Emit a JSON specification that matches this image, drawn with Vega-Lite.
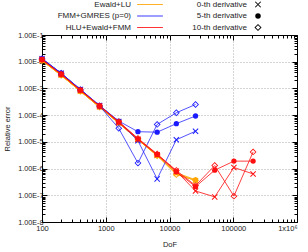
{
  "$schema": "https://vega.github.io/schema/vega-lite/v6.json",
  "width": 255,
  "height": 187,
  "autosize": {"type": "none"},
  "padding": {"left": 42, "top": 35, "right": 11, "bottom": 30},
  "config": {
    "font": "Liberation Sans",
    "view": {"stroke": "black", "strokeWidth": 1},
    "axis": {"labelFont": "Liberation Sans", "titleFont": "Liberation Sans", "labelFontSize": 7.5, "titleFontSize": 7.5, "titleFontWeight": "normal", "labelColor": "#222", "titleColor": "#222", "domainColor": "black", "tickColor": "black"}
  },
  "data": {"values": [
    {"DoF": 100, "err": 1.1e-2, "method": "Ewald+LU", "deriv": "0-th derivative"},
    {"DoF": 200, "err": 3.1e-3, "method": "Ewald+LU", "deriv": "0-th derivative"},
    {"DoF": 400, "err": 7.8e-4, "method": "Ewald+LU", "deriv": "0-th derivative"},
    {"DoF": 800, "err": 2.0e-4, "method": "Ewald+LU", "deriv": "0-th derivative"},
    {"DoF": 1600, "err": 5.0e-5, "method": "Ewald+LU", "deriv": "0-th derivative"},
    {"DoF": 3200, "err": 1.2e-5, "method": "Ewald+LU", "deriv": "0-th derivative"},
    {"DoF": 6400, "err": 3.1e-6, "method": "Ewald+LU", "deriv": "0-th derivative"},
    {"DoF": 12800, "err": 6.5e-7, "method": "Ewald+LU", "deriv": "0-th derivative"},
    {"DoF": 25600, "err": 3.5e-7, "method": "Ewald+LU", "deriv": "0-th derivative"},
    {"DoF": 100, "err": 1.1e-2, "method": "Ewald+LU", "deriv": "5-th derivative"},
    {"DoF": 200, "err": 3.1e-3, "method": "Ewald+LU", "deriv": "5-th derivative"},
    {"DoF": 400, "err": 7.9e-4, "method": "Ewald+LU", "deriv": "5-th derivative"},
    {"DoF": 800, "err": 2.0e-4, "method": "Ewald+LU", "deriv": "5-th derivative"},
    {"DoF": 1600, "err": 5.1e-5, "method": "Ewald+LU", "deriv": "5-th derivative"},
    {"DoF": 3200, "err": 1.2e-5, "method": "Ewald+LU", "deriv": "5-th derivative"},
    {"DoF": 6400, "err": 3.1e-6, "method": "Ewald+LU", "deriv": "5-th derivative"},
    {"DoF": 12800, "err": 7.0e-7, "method": "Ewald+LU", "deriv": "5-th derivative"},
    {"DoF": 25600, "err": 3.8e-7, "method": "Ewald+LU", "deriv": "5-th derivative"},
    {"DoF": 100, "err": 1.1e-2, "method": "Ewald+LU", "deriv": "10-th derivative"},
    {"DoF": 200, "err": 3.1e-3, "method": "Ewald+LU", "deriv": "10-th derivative"},
    {"DoF": 400, "err": 7.8e-4, "method": "Ewald+LU", "deriv": "10-th derivative"},
    {"DoF": 800, "err": 2.0e-4, "method": "Ewald+LU", "deriv": "10-th derivative"},
    {"DoF": 1600, "err": 5.0e-5, "method": "Ewald+LU", "deriv": "10-th derivative"},
    {"DoF": 3200, "err": 1.2e-5, "method": "Ewald+LU", "deriv": "10-th derivative"},
    {"DoF": 6400, "err": 3.0e-6, "method": "Ewald+LU", "deriv": "10-th derivative"},
    {"DoF": 12800, "err": 6.0e-7, "method": "Ewald+LU", "deriv": "10-th derivative"},
    {"DoF": 25600, "err": 3.6e-7, "method": "Ewald+LU", "deriv": "10-th derivative"},

    {"DoF": 100, "err": 1.3e-2, "method": "FMM+GMRES (p=0)", "deriv": "0-th derivative"},
    {"DoF": 200, "err": 3.7e-3, "method": "FMM+GMRES (p=0)", "deriv": "0-th derivative"},
    {"DoF": 400, "err": 9.2e-4, "method": "FMM+GMRES (p=0)", "deriv": "0-th derivative"},
    {"DoF": 800, "err": 2.3e-4, "method": "FMM+GMRES (p=0)", "deriv": "0-th derivative"},
    {"DoF": 1600, "err": 5.8e-5, "method": "FMM+GMRES (p=0)", "deriv": "0-th derivative"},
    {"DoF": 3200, "err": 1.1e-5, "method": "FMM+GMRES (p=0)", "deriv": "0-th derivative"},
    {"DoF": 6400, "err": 4.1e-7, "method": "FMM+GMRES (p=0)", "deriv": "0-th derivative"},
    {"DoF": 12800, "err": 1.2e-5, "method": "FMM+GMRES (p=0)", "deriv": "0-th derivative"},
    {"DoF": 25600, "err": 2.5e-5, "method": "FMM+GMRES (p=0)", "deriv": "0-th derivative"},
    {"DoF": 100, "err": 1.3e-2, "method": "FMM+GMRES (p=0)", "deriv": "5-th derivative"},
    {"DoF": 200, "err": 3.7e-3, "method": "FMM+GMRES (p=0)", "deriv": "5-th derivative"},
    {"DoF": 400, "err": 9.2e-4, "method": "FMM+GMRES (p=0)", "deriv": "5-th derivative"},
    {"DoF": 800, "err": 2.3e-4, "method": "FMM+GMRES (p=0)", "deriv": "5-th derivative"},
    {"DoF": 1600, "err": 6.0e-5, "method": "FMM+GMRES (p=0)", "deriv": "5-th derivative"},
    {"DoF": 3200, "err": 2.4e-5, "method": "FMM+GMRES (p=0)", "deriv": "5-th derivative"},
    {"DoF": 6400, "err": 2.3e-5, "method": "FMM+GMRES (p=0)", "deriv": "5-th derivative"},
    {"DoF": 12800, "err": 4.8e-5, "method": "FMM+GMRES (p=0)", "deriv": "5-th derivative"},
    {"DoF": 25600, "err": 9.3e-5, "method": "FMM+GMRES (p=0)", "deriv": "5-th derivative"},
    {"DoF": 100, "err": 1.3e-2, "method": "FMM+GMRES (p=0)", "deriv": "10-th derivative"},
    {"DoF": 200, "err": 3.7e-3, "method": "FMM+GMRES (p=0)", "deriv": "10-th derivative"},
    {"DoF": 400, "err": 9.0e-4, "method": "FMM+GMRES (p=0)", "deriv": "10-th derivative"},
    {"DoF": 800, "err": 2.2e-4, "method": "FMM+GMRES (p=0)", "deriv": "10-th derivative"},
    {"DoF": 1600, "err": 3.2e-5, "method": "FMM+GMRES (p=0)", "deriv": "10-th derivative"},
    {"DoF": 3200, "err": 1.6e-6, "method": "FMM+GMRES (p=0)", "deriv": "10-th derivative"},
    {"DoF": 6400, "err": 4.5e-5, "method": "FMM+GMRES (p=0)", "deriv": "10-th derivative"},
    {"DoF": 12800, "err": 1.23e-4, "method": "FMM+GMRES (p=0)", "deriv": "10-th derivative"},
    {"DoF": 25600, "err": 2.5e-4, "method": "FMM+GMRES (p=0)", "deriv": "10-th derivative"},

    {"DoF": 100, "err": 1.2e-2, "method": "HLU+Ewald+FMM", "deriv": "0-th derivative"},
    {"DoF": 200, "err": 3.4e-3, "method": "HLU+Ewald+FMM", "deriv": "0-th derivative"},
    {"DoF": 400, "err": 8.5e-4, "method": "HLU+Ewald+FMM", "deriv": "0-th derivative"},
    {"DoF": 800, "err": 2.2e-4, "method": "HLU+Ewald+FMM", "deriv": "0-th derivative"},
    {"DoF": 1600, "err": 5.3e-5, "method": "HLU+Ewald+FMM", "deriv": "0-th derivative"},
    {"DoF": 3200, "err": 1.25e-5, "method": "HLU+Ewald+FMM", "deriv": "0-th derivative"},
    {"DoF": 6400, "err": 3.3e-6, "method": "HLU+Ewald+FMM", "deriv": "0-th derivative"},
    {"DoF": 12800, "err": 8.0e-7, "method": "HLU+Ewald+FMM", "deriv": "0-th derivative"},
    {"DoF": 25600, "err": 1.45e-7, "method": "HLU+Ewald+FMM", "deriv": "0-th derivative"},
    {"DoF": 51200, "err": 8.7e-8, "method": "HLU+Ewald+FMM", "deriv": "0-th derivative"},
    {"DoF": 102400, "err": 1.1e-6, "method": "HLU+Ewald+FMM", "deriv": "0-th derivative"},
    {"DoF": 204800, "err": 6.3e-7, "method": "HLU+Ewald+FMM", "deriv": "0-th derivative"},
    {"DoF": 100, "err": 1.2e-2, "method": "HLU+Ewald+FMM", "deriv": "5-th derivative"},
    {"DoF": 200, "err": 3.4e-3, "method": "HLU+Ewald+FMM", "deriv": "5-th derivative"},
    {"DoF": 400, "err": 8.6e-4, "method": "HLU+Ewald+FMM", "deriv": "5-th derivative"},
    {"DoF": 800, "err": 2.2e-4, "method": "HLU+Ewald+FMM", "deriv": "5-th derivative"},
    {"DoF": 1600, "err": 5.5e-5, "method": "HLU+Ewald+FMM", "deriv": "5-th derivative"},
    {"DoF": 3200, "err": 1.3e-5, "method": "HLU+Ewald+FMM", "deriv": "5-th derivative"},
    {"DoF": 6400, "err": 3.4e-6, "method": "HLU+Ewald+FMM", "deriv": "5-th derivative"},
    {"DoF": 12800, "err": 7.6e-7, "method": "HLU+Ewald+FMM", "deriv": "5-th derivative"},
    {"DoF": 25600, "err": 2.1e-7, "method": "HLU+Ewald+FMM", "deriv": "5-th derivative"},
    {"DoF": 51200, "err": 8.7e-7, "method": "HLU+Ewald+FMM", "deriv": "5-th derivative"},
    {"DoF": 102400, "err": 1.9e-6, "method": "HLU+Ewald+FMM", "deriv": "5-th derivative"},
    {"DoF": 204800, "err": 1.9e-6, "method": "HLU+Ewald+FMM", "deriv": "5-th derivative"},
    {"DoF": 100, "err": 1.2e-2, "method": "HLU+Ewald+FMM", "deriv": "10-th derivative"},
    {"DoF": 200, "err": 3.4e-3, "method": "HLU+Ewald+FMM", "deriv": "10-th derivative"},
    {"DoF": 400, "err": 8.6e-4, "method": "HLU+Ewald+FMM", "deriv": "10-th derivative"},
    {"DoF": 800, "err": 2.2e-4, "method": "HLU+Ewald+FMM", "deriv": "10-th derivative"},
    {"DoF": 1600, "err": 5.7e-5, "method": "HLU+Ewald+FMM", "deriv": "10-th derivative"},
    {"DoF": 3200, "err": 1.35e-5, "method": "HLU+Ewald+FMM", "deriv": "10-th derivative"},
    {"DoF": 6400, "err": 3.5e-6, "method": "HLU+Ewald+FMM", "deriv": "10-th derivative"},
    {"DoF": 12800, "err": 8.5e-7, "method": "HLU+Ewald+FMM", "deriv": "10-th derivative"},
    {"DoF": 25600, "err": 2.3e-7, "method": "HLU+Ewald+FMM", "deriv": "10-th derivative"},
    {"DoF": 51200, "err": 1.3e-6, "method": "HLU+Ewald+FMM", "deriv": "10-th derivative"},
    {"DoF": 102400, "err": 9.3e-8, "method": "HLU+Ewald+FMM", "deriv": "10-th derivative"},
    {"DoF": 204800, "err": 4.2e-6, "method": "HLU+Ewald+FMM", "deriv": "10-th derivative"}
  ]},
  "encoding": {
    "x": {"field": "DoF", "type": "quantitative", "scale": {"type": "log", "domain": [100, 1000000], "nice": false}, "axis": null},
    "y": {"field": "err", "type": "quantitative", "scale": {"type": "log", "domain": [1e-8, 0.1], "nice": false}, "axis": null},
    "detail": {"field": "deriv"}
  },
  "resolve": {"axis": {"x": "independent", "y": "independent"}},
  "layer": [
    {
      "transform": [{"filter": "datum.method == 'Ewald+LU'"}],
      "mark": {"type": "line", "strokeWidth": 1, "opacity": 0.85},
      "encoding": {
        "stroke": {"field": "method", "type": "nominal",
          "scale": {"domain": ["Ewald+LU", "FMM+GMRES (p=0)", "HLU+Ewald+FMM"], "range": ["#ffa500", "#1a1aff", "#ff1010"]},
          "legend": {"title": null, "orient": "none", "legendX": 104, "legendY": -34.5, "symbolType": "M-4.3,0H4.3", "symbolSize": 36, "symbolStrokeWidth": 1, "labelAlign": "right", "labelOffset": -23, "labelFontSize": 8, "labelFont": "Liberation Sans", "labelColor": "#222", "rowPadding": 3.5}},
        "x": {"field": "DoF", "type": "quantitative", "title": "DoF", "scale": {"type": "log", "domain": [100, 1000000], "nice": false},
          "axis": {"orient": "bottom", "values": [100,200,300,400,500,600,700,800,900,1000,2000,3000,4000,5000,6000,7000,8000,9000,10000,20000,30000,40000,50000,60000,70000,80000,90000,100000,200000,300000,400000,500000,600000,700000,800000,900000,1000000],
            "labelExpr": "abs(log(datum.value)/LN10 - round(log(datum.value)/LN10)) < 1e-6 ? (datum.value >= 1000000 ? '1x10⁶' : format(datum.value, 'd')) : ''",
            "labelOverlap": false, "labelFlush": false,
            "labelAlign": {"condition": {"test": "datum.value >= 1000000", "value": "right"}, "value": "center"},
            "grid": true, "gridDash": [1, 2], "gridColor": "#aaaaaa",
            "gridOpacity": {"condition": {"test": "abs(log(datum.value)/LN10 - round(log(datum.value)/LN10)) < 1e-6 && datum.value > 100 && datum.value < 1000000", "value": 1}, "value": 0},
            "tickSize": {"condition": {"test": "abs(log(datum.value)/LN10 - round(log(datum.value)/LN10)) < 1e-6", "value": -5}, "value": -3},
            "labelPadding": 7, "titlePadding": 7, "domain": true}},
        "y": {"field": "err", "type": "quantitative", "title": "Relative error", "scale": {"type": "log", "domain": [1e-8, 0.1], "nice": false},
          "axis": {"orient": "left", "values": [1e-8,2e-8,3e-8,4e-8,5e-8,6e-8,7e-8,8e-8,9e-8,1e-7,2e-7,3e-7,4e-7,5e-7,6e-7,7e-7,8e-7,9e-7,1e-6,2e-6,3e-6,4e-6,5e-6,6e-6,7e-6,8e-6,9e-6,1e-5,2e-5,3e-5,4e-5,5e-5,6e-5,7e-5,8e-5,9e-5,1e-4,2e-4,3e-4,4e-4,5e-4,6e-4,7e-4,8e-4,9e-4,1e-3,2e-3,3e-3,4e-3,5e-3,6e-3,7e-3,8e-3,9e-3,1e-2,2e-2,3e-2,4e-2,5e-2,6e-2,7e-2,8e-2,9e-2,1e-1],
            "labelExpr": "abs(log(datum.value)/LN10 - round(log(datum.value)/LN10)) < 1e-6 ? '1.00E-' + format(-round(log(datum.value)/LN10), 'd') : ''",
            "labelOverlap": false, "labelFlush": false, "labelFontSize": 7.2,
            "grid": true, "gridDash": [1, 2], "gridColor": "#aaaaaa",
            "gridOpacity": {"condition": {"test": "abs(log(datum.value)/LN10 - round(log(datum.value)/LN10)) < 1e-6 && datum.value > 1.5e-8 && datum.value < 0.09", "value": 1}, "value": 0},
            "tickSize": {"condition": {"test": "abs(log(datum.value)/LN10 - round(log(datum.value)/LN10)) < 1e-6", "value": -5}, "value": -3},
            "labelPadding": 4, "titlePadding": 6, "domain": true}}
      }
    },
    {
      "transform": [{"filter": "datum.method == 'Ewald+LU'"}],
      "mark": {"type": "point", "filled": true, "size": 28, "strokeWidth": 0, "opacity": 1},
      "encoding": {
        "shape": {"field": "deriv", "type": "nominal",
          "scale": {"domain": ["0-th derivative", "5-th derivative", "10-th derivative"], "range": ["M-0.87,-1.13L1.13,0.87L0.87,1.13L-1.13,-0.87ZM1.13,-0.87L-0.87,1.13L-1.13,0.87L0.87,-1.13Z", "circle", "M0,-1.3L1.3,0L0,1.3L-1.3,0ZM0,-0.85L-0.85,0L0,0.85L0.85,0Z"]},
          "legend": {"title": null, "orient": "none", "legendX": 212, "legendY": -34.5, "symbolSize": 30, "symbolStrokeWidth": 0, "symbolFillColor": "black", "symbolStrokeColor": "black", "labelAlign": "right", "labelOffset": -15, "labelFontSize": 8, "labelFont": "Liberation Sans", "labelColor": "#222", "rowPadding": 3.5,
            "encode": {"symbols": {"fill": {"value": "black"}, "strokeWidth": {"value": 0}, "opacity": {"value": 1}}}}},
        "fill": {"field": "method", "type": "nominal", "scale": {"domain": ["Ewald+LU", "FMM+GMRES (p=0)", "HLU+Ewald+FMM"], "range": ["#ffa500", "#1a1aff", "#ff1010"]}, "legend": null}
      }
    },
    {
      "transform": [{"filter": "datum.method == 'FMM+GMRES (p=0)'"}],
      "mark": {"type": "line", "strokeWidth": 1, "opacity": 0.75},
      "encoding": {"stroke": {"field": "method", "type": "nominal", "scale": {"domain": ["Ewald+LU", "FMM+GMRES (p=0)", "HLU+Ewald+FMM"], "range": ["#ffa500", "#1a1aff", "#ff1010"]}}}
    },
    {
      "transform": [{"filter": "datum.method == 'FMM+GMRES (p=0)'"}],
      "mark": {"type": "point", "filled": true, "size": 28, "strokeWidth": 0, "opacity": 1},
      "encoding": {
        "shape": {"field": "deriv", "type": "nominal", "scale": {"domain": ["0-th derivative", "5-th derivative", "10-th derivative"], "range": ["M-0.87,-1.13L1.13,0.87L0.87,1.13L-1.13,-0.87ZM1.13,-0.87L-0.87,1.13L-1.13,0.87L0.87,-1.13Z", "circle", "M0,-1.3L1.3,0L0,1.3L-1.3,0ZM0,-0.85L-0.85,0L0,0.85L0.85,0Z"]}},
        "fill": {"field": "method", "type": "nominal", "scale": {"domain": ["Ewald+LU", "FMM+GMRES (p=0)", "HLU+Ewald+FMM"], "range": ["#ffa500", "#1a1aff", "#ff1010"]}, "legend": null}
      }
    },
    {
      "transform": [{"filter": "datum.method == 'HLU+Ewald+FMM'"}],
      "mark": {"type": "line", "strokeWidth": 1, "opacity": 0.8},
      "encoding": {"stroke": {"field": "method", "type": "nominal", "scale": {"domain": ["Ewald+LU", "FMM+GMRES (p=0)", "HLU+Ewald+FMM"], "range": ["#ffa500", "#1a1aff", "#ff1010"]}}}
    },
    {
      "transform": [{"filter": "datum.method == 'HLU+Ewald+FMM'"}],
      "mark": {"type": "point", "filled": true, "size": 28, "strokeWidth": 0, "opacity": 1},
      "encoding": {
        "x": {"field": "DoF", "type": "quantitative", "scale": {"type": "log", "domain": [100, 1000000], "nice": false},
          "axis": {"orient": "top", "title": null, "labels": false, "grid": false, "domain": false, "values": [100,200,300,400,500,600,700,800,900,1000,2000,3000,4000,5000,6000,7000,8000,9000,10000,20000,30000,40000,50000,60000,70000,80000,90000,100000,200000,300000,400000,500000,600000,700000,800000,900000,1000000],
            "tickSize": {"condition": {"test": "abs(log(datum.value)/LN10 - round(log(datum.value)/LN10)) < 1e-6", "value": -5}, "value": -3}}},
        "y": {"field": "err", "type": "quantitative", "scale": {"type": "log", "domain": [1e-8, 0.1], "nice": false},
          "axis": {"orient": "right", "title": null, "labels": false, "grid": false, "domain": false, "values": [1e-8,2e-8,3e-8,4e-8,5e-8,6e-8,7e-8,8e-8,9e-8,1e-7,2e-7,3e-7,4e-7,5e-7,6e-7,7e-7,8e-7,9e-7,1e-6,2e-6,3e-6,4e-6,5e-6,6e-6,7e-6,8e-6,9e-6,1e-5,2e-5,3e-5,4e-5,5e-5,6e-5,7e-5,8e-5,9e-5,1e-4,2e-4,3e-4,4e-4,5e-4,6e-4,7e-4,8e-4,9e-4,1e-3,2e-3,3e-3,4e-3,5e-3,6e-3,7e-3,8e-3,9e-3,1e-2,2e-2,3e-2,4e-2,5e-2,6e-2,7e-2,8e-2,9e-2,1e-1],
            "tickSize": {"condition": {"test": "abs(log(datum.value)/LN10 - round(log(datum.value)/LN10)) < 1e-6", "value": -5}, "value": -3}}},
        "shape": {"field": "deriv", "type": "nominal", "scale": {"domain": ["0-th derivative", "5-th derivative", "10-th derivative"], "range": ["M-0.87,-1.13L1.13,0.87L0.87,1.13L-1.13,-0.87ZM1.13,-0.87L-0.87,1.13L-1.13,0.87L0.87,-1.13Z", "circle", "M0,-1.3L1.3,0L0,1.3L-1.3,0ZM0,-0.85L-0.85,0L0,0.85L0.85,0Z"]}},
        "fill": {"field": "method", "type": "nominal", "scale": {"domain": ["Ewald+LU", "FMM+GMRES (p=0)", "HLU+Ewald+FMM"], "range": ["#ffa500", "#1a1aff", "#ff1010"]}, "legend": null}
      }
    }
  ]
}
